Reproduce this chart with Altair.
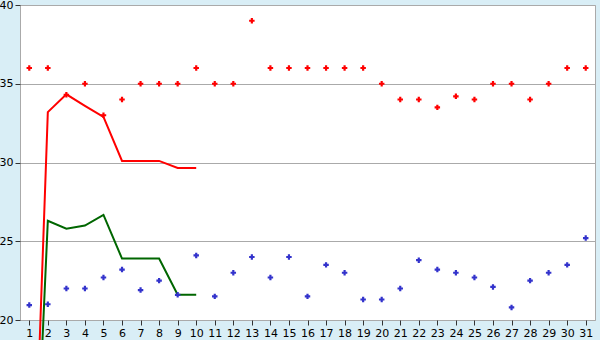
import altair as alt
import pandas as pd

days = list(range(1, 32))
red_pts = [36, 36, 34.3, 35, 33, 34, 35, 35, 35, 36, 35, 35, 39, 36, 36, 36, 36, 36, 36, 35,
           34, 34, 33.5, 34.2, 34, 35, 35, 34, 35, 36, 36]
blue_pts = [20.95, 21.0, 22.0, 22.0, 22.7, 23.2, 21.9, 22.5, 21.6, 24.1, 21.5, 23.0, 24.0, 22.7, 24.0, 21.5,
            23.5, 23.0, 21.3, 21.3, 22.0, 23.8, 23.2, 23.0, 22.7, 22.1, 20.8, 22.5, 23.0, 23.5, 25.2]
line_days = list(range(1, 11))
red_line = [0, 33.2, 34.33, 33.6, 32.9, 30.1, 30.1, 30.1, 29.65, 29.65]
green_line = [0, 26.3, 25.8, 26.0, 26.67, 23.9, 23.9, 23.9, 21.6, 21.6]

pts = pd.DataFrame({
    "day": days * 2,
    "v": red_pts + blue_pts,
    "s": ["red"] * 31 + ["blue"] * 31,
})
lines = pd.DataFrame({
    "day": line_days * 2,
    "v": red_line + green_line,
    "s": ["redline"] * 10 + ["greenline"] * 10,
})

color = alt.Color("s:N", legend=None,
                  scale=alt.Scale(domain=["red", "blue", "redline", "greenline"],
                                  range=["#ff0000", "#3333cc", "#ff0000", "#006600"]))

xenc = alt.X("day:O", scale=alt.Scale(domain=days), title=None,
             axis=alt.Axis(labelAngle=0, grid=False, domain=False, tickSize=5,
                           tickColor="#333333", labelFont="DejaVu Sans", labelFontSize=11,
                           labelColor="black", labelPadding=2))
yenc = alt.Y("v:Q", scale=alt.Scale(domain=[20, 40], nice=False, zero=False), title=None,
             axis=alt.Axis(values=[20, 25, 30, 35, 40], grid=True, gridColor="#aaaaaa",
                           domain=False, tickSize=5, tickColor="#333333",
                           labelFont="DejaVu Sans", labelFontSize=11, labelColor="black",
                           labelPadding=2))

line_layer = alt.Chart(lines).mark_line(strokeWidth=2, clip=False).encode(
    x=xenc, y=yenc, color=color, detail="s:N")
pt_layer = alt.Chart(pts).mark_point(shape="cross", filled=True, size=30, opacity=1).encode(
    x=xenc, y=yenc, color=color)

chart = alt.layer(line_layer, pt_layer).properties(
    width=575, height=315,
    autosize=alt.AutoSizeParams(type="none"),
    padding={"left": 20, "top": 5, "right": 5, "bottom": 20},
    background="#d9eef6",
).configure_view(fill="white", stroke="#aaaaaa", strokeWidth=1)

chart.save("out.html", embed_options={"renderer": "svg", "actions": False})
